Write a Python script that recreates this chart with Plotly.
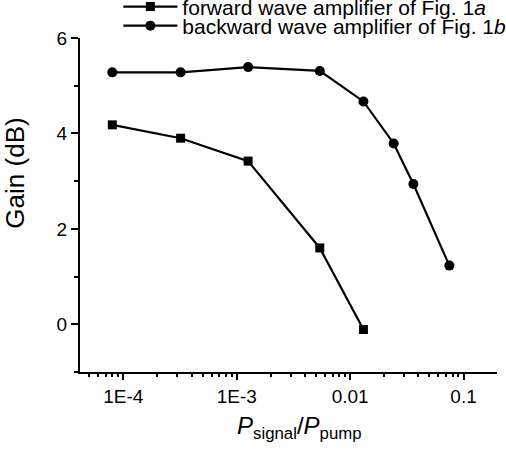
import plotly.graph_objects as go

fwd_ratio = [8.0e-5, 3.2e-4, 1.26e-3, 5.4e-3, 0.0131]
fwd_gain = [4.18, 3.90, 3.42, 1.60, -0.11]

bwd_ratio = [8.0e-5, 3.2e-4, 1.26e-3, 5.4e-3, 0.0131, 0.0242, 0.0361, 0.075]
bwd_gain = [5.28, 5.28, 5.39, 5.31, 4.67, 3.79, 2.94, 1.23]

xtick_vals = [1e-4, 1e-3, 1e-2, 1e-1]
xtick_text = ["1E-4", "1E-3", "0.01", "0.1"]

font = "Arial, Liberation Sans, sans-serif"

fig = go.Figure()
fig.add_trace(go.Scatter(
    x=fwd_ratio, y=fwd_gain, mode="lines+markers",
    name="forward wave amplifier of Fig. 1<i>a</i>",
    line=dict(color="black", width=2.2),
    marker=dict(symbol="square", size=9, color="black"),
    legend="legend",
))
fig.add_trace(go.Scatter(
    x=bwd_ratio, y=bwd_gain, mode="lines+markers",
    name="backward wave amplifier of Fig. 1<i>b</i>",
    line=dict(color="black", width=2.2),
    marker=dict(symbol="circle", size=10, color="black"),
    legend="legend2",
))

fig.update_layout(
    width=506, height=454,
    margin=dict(l=80, r=9, t=38, b=82, autoexpand=False),
    paper_bgcolor="white", plot_bgcolor="white",
    font=dict(family=font, color="black", size=18),
    showlegend=True,
    legend=dict(x=0.092, y=1.093, xanchor="left", yanchor="middle",
                font=dict(size=21), itemwidth=54, bgcolor="rgba(0,0,0,0)"),
    legend2=dict(x=0.092, y=1.036, xanchor="left", yanchor="middle",
                 font=dict(size=21), itemwidth=54, bgcolor="rgba(0,0,0,0)"),
)

fig.update_xaxes(
    type="log", range=[-4.382, -0.705],
    tickmode="array", tickvals=xtick_vals, ticktext=xtick_text,
    ticks="outside", ticklen=6, tickwidth=2, tickcolor="black",
    minor=dict(ticks="outside", ticklen=3, tickwidth=2, tickcolor="black", dtick="D1"),
    showline=True, linecolor="black", linewidth=2,
    showgrid=False, zeroline=False, tickfont=dict(size=19),
)
fig.update_yaxes(
    range=[-1, 6], dtick=2, tick0=0,
    ticks="outside", ticklen=7, tickwidth=2, tickcolor="black",
    minor=dict(ticks="outside", ticklen=4, tickwidth=2, tickcolor="black", dtick=1),
    showline=True, linecolor="black", linewidth=2,
    showgrid=False, zeroline=False, tickfont=dict(size=19),
)

fig.add_annotation(
    text="Gain (dB)", textangle=-90, font=dict(size=26),
    xref="paper", yref="paper", x=-0.155, y=0.595,
    xanchor="center", yanchor="middle", showarrow=False,
)
fig.add_annotation(
    text="<i>P</i><sub>signal</sub>/<i>P</i><sub>pump</sub>", font=dict(size=24),
    xref="paper", yref="paper", x=0.527, y=-0.115,
    xanchor="center", yanchor="top", showarrow=False,
)

# drop the browser's default 8px body margin so the figure sits at (0, 0)
fig.write_html("out.html", config={"displayModeBar": False},
               post_script="document.body.style.margin='0';")
